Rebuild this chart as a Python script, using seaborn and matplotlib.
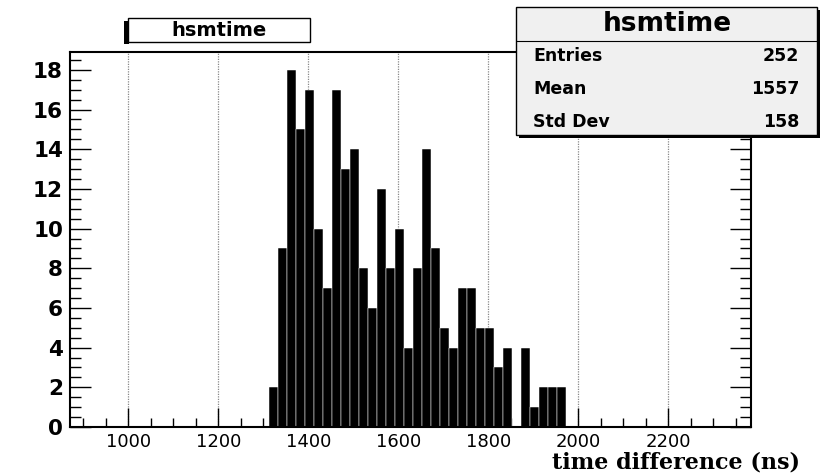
import numpy as np
import matplotlib
matplotlib.use("Agg")
import matplotlib.pyplot as plt
from matplotlib.patches import Rectangle
from matplotlib.lines import Line2D
from matplotlib.ticker import MultipleLocator
import seaborn as sns

# ---- data ----
bin_edges = [1313, 1333, 1353, 1373, 1393, 1413, 1433, 1453, 1473, 1493, 1513,
             1533, 1553, 1573, 1593, 1613, 1633, 1653, 1673, 1693, 1713, 1733,
             1753, 1773, 1793, 1813, 1833, 1853, 1873, 1893, 1913, 1933, 1953, 1973]
counts = [2, 9, 18, 15, 17, 10, 7, 17, 13, 14, 8, 6, 12, 8, 10, 4, 8, 14, 9, 5,
          4, 7, 7, 5, 5, 3, 4, 0, 4, 1, 2, 2, 2]
hist_name = "hsmtime"
stat_labels = ["Entries", "Mean", "Std Dev"]
stat_values = ["252", "1557", "158"]
x_title = "time difference (ns)"
x_major_ticks = [1000, 1200, 1400, 1600, 1800, 2000, 2200]
y_major_ticks = [0, 2, 4, 6, 8, 10, 12, 14, 16, 18]

centers = [(a + b) / 2 for a, b in zip(bin_edges[:-1], bin_edges[1:])]

sns.set_style("white")
plt.rcParams['font.family'] = ['DejaVu Sans']
plt.rcParams['text.color'] = 'black'
plt.rcParams['xtick.color'] = 'black'
plt.rcParams['ytick.color'] = 'black'
plt.rcParams['axes.labelcolor'] = 'black'

W, H = 823, 474
fig = plt.figure(figsize=(W / 100, H / 100), dpi=100)
fig.patch.set_facecolor("white")

def fx(px):
    return px / W

def fy(py):
    return 1 - py / H

ax = fig.add_axes([fx(70), fy(427), fx(751) - fx(70), fy(52) - fy(427)])

sns.histplot(x=centers, weights=counts, bins=bin_edges, ax=ax,
             color="black", alpha=1.0, edgecolor="white", linewidth=0.35,
             element="bars", fill=True)

ax.set_xlim(870, 2384)
ax.set_ylim(0, 18.9)
ax.set_xlabel("")
ax.set_ylabel("")

ax.set_xticks(x_major_ticks)
ax.set_yticks(y_major_ticks)
ax.xaxis.set_minor_locator(MultipleLocator(50))
ax.yaxis.set_minor_locator(MultipleLocator(0.5))

ax.set_axisbelow(True)
ax.grid(axis="x", which="major", color="#888888", linestyle=(0, (1, 1)), linewidth=0.9)
ax.grid(axis="y", visible=False)

for s in ax.spines.values():
    s.set_linewidth(1.5)
    s.set_color("black")
    s.set_visible(True)

ax.tick_params(axis="y", which="major", direction="in", length=15, width=1.0,
               left=True, right=True, labelsize=15.5, pad=5, colors="black")
ax.tick_params(axis="y", which="minor", direction="in", length=8, width=1.0,
               left=True, right=True, colors="black")
ax.tick_params(axis="x", which="major", direction="in", length=14, width=1.0,
               bottom=True, top=False, labelsize=13, pad=4, colors="black")
ax.tick_params(axis="x", which="minor", direction="in", length=6.5, width=1.0,
               bottom=True, top=False, colors="black")
for lab in ax.get_yticklabels():
    lab.set_fontweight("bold")

# x axis title
fig.text(fx(800), fy(462), x_title, ha="right", va="center", color="black",
         family="DejaVu Serif", fontweight="bold", fontsize=16)

# ---- title box (top-left) ----
fig.patches.append(Rectangle((fx(124), fy(44)), fx(5), fy(21) - fy(44),
                             transform=fig.transFigure, facecolor="black",
                             edgecolor="none", zorder=5))
fig.patches.append(Rectangle((fx(128), fy(42)), fx(310) - fx(128), fy(18) - fy(42),
                             transform=fig.transFigure, facecolor="white",
                             edgecolor="black", linewidth=1.0, zorder=6))
fig.text(fx(219), fy(30), hist_name, ha="center", va="center", color="black",
         fontweight="bold", fontsize=14, zorder=7)

# ---- stats box (top-right) ----
fig.patches.append(Rectangle((fx(519), fy(138)), fx(820) - fx(519), fy(10) - fy(138),
                             transform=fig.transFigure, facecolor="black",
                             edgecolor="none", zorder=5))
fig.patches.append(Rectangle((fx(516), fy(135)), fx(817) - fx(516), fy(7) - fy(135),
                             transform=fig.transFigure, facecolor="#f0f0f0",
                             edgecolor="black", linewidth=1.0, zorder=6))
fig.lines.append(Line2D([fx(516), fx(817)], [fy(41), fy(41)],
                        transform=fig.transFigure, color="black",
                        linewidth=0.8, zorder=7))
fig.text(fx(667), fy(24), hist_name, ha="center", va="center", color="black",
         fontweight="bold", fontsize=19, zorder=8)
row_y = [56, 89, 122]
for lab, val, yy in zip(stat_labels, stat_values, row_y):
    fig.text(fx(533), fy(yy), lab, ha="left", va="center", color="black",
             fontweight="bold", fontsize=12.5, zorder=8)
    fig.text(fx(799), fy(yy), val, ha="right", va="center", color="black",
             fontweight="bold", fontsize=12.5, zorder=8)

fig.savefig("out.png", dpi=100)
